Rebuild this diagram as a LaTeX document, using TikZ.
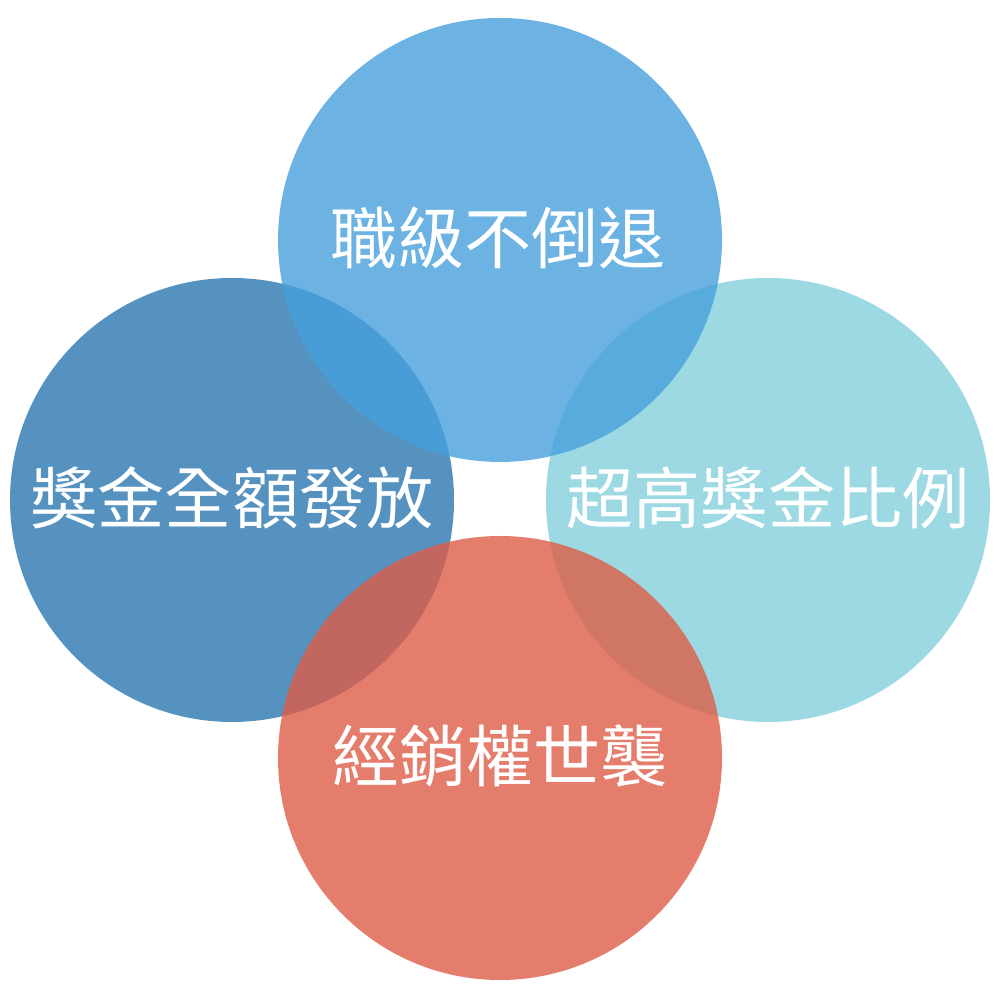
\documentclass[tikz,border=0pt]{standalone}
\usepackage{fontspec}
\newfontfamily\cjk{Noto Sans CJK TC}
\usepackage{tikz}
\tikzset{
  bubble/.style={circle,minimum size=4.44cm,inner sep=0pt,fill opacity=0.8,draw=none},
  label/.style={text=white,font=\cjk\fontsize{19.1pt}{22pt}\selectfont}
}
\definecolor{topblue}{RGB}{71,160,220}
\definecolor{leftblue}{RGB}{42,119,175}
\definecolor{rightcyan}{RGB}{133,208,220}
\definecolor{bottomred}{RGB}{221,93,71}

\begin{document}
\begin{tikzpicture}
  \useasboundingbox (0,0) rectangle (10,10);

  % circles, drawn left, right, then top and bottom over them
  \node[bubble,fill=leftblue]  (left)   at (2.32,5.00) {};
  \node[bubble,fill=rightcyan] (right)  at (7.68,5.00) {};
  \node[bubble,fill=topblue]   (top)    at (5.00,7.60) {};
  \node[bubble,fill=bottomred] (bottom) at (5.00,2.42) {};

  \node[label] (toptext)    at (4.98,7.62) {職級不倒退};
  \node[label] (lefttext)   at (2.32,5.02) {獎金全額發放};
  \node[label] (righttext)  at (7.68,5.02) {超高獎金比例};
  \node[label] (bottomtext) at (5.00,2.44) {經銷權世襲};
\end{tikzpicture}
\end{document}
